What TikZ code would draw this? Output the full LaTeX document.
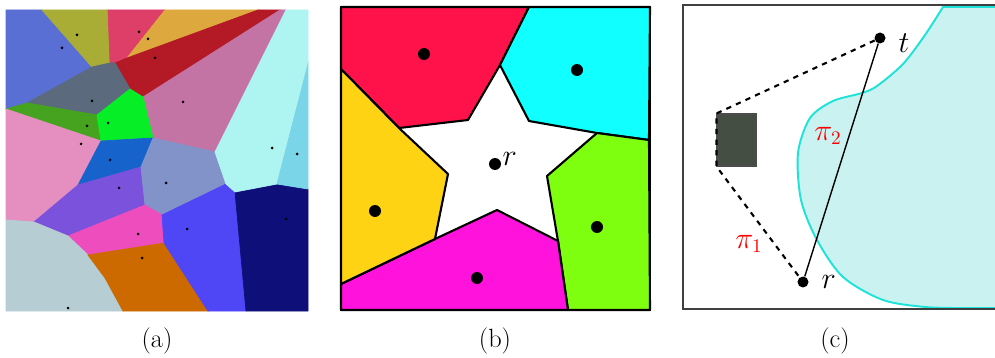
\documentclass[tikz,border=0pt]{standalone}
\usepackage{tikz}
\usetikzlibrary{positioning,calc}
% panel (a) colours
\definecolor{cblue}{RGB}{90,111,211}
\definecolor{colive}{RGB}{169,173,53}
\definecolor{crose}{RGB}{222,63,105}
\definecolor{cgold}{RGB}{221,169,63}
\definecolor{ccrimson}{RGB}{179,26,38}
\definecolor{cmauve}{RGB}{196,116,164}
\definecolor{cslate}{RGB}{91,107,125}
\definecolor{clgreen}{RGB}{6,238,38}
\definecolor{cdgreen}{RGB}{69,163,31}
\definecolor{cpink}{RGB}{229,143,192}
\definecolor{cbluemid}{RGB}{23,99,204}
\definecolor{cpurple}{RGB}{123,82,220}
\definecolor{cperi}{RGB}{130,147,202}
\definecolor{cmagenta}{RGB}{238,77,190}
\definecolor{cgray}{RGB}{181,205,211}
\definecolor{corange}{RGB}{204,106,0}
\definecolor{cviolet}{RGB}{79,70,245}
\definecolor{cnavy}{RGB}{15,15,122}
\definecolor{clcyan}{RGB}{174,244,241}
\definecolor{csky}{RGB}{122,213,232}
% panel (b) colours
\definecolor{bred}{RGB}{255,18,73}
\definecolor{bcyan}{RGB}{16,255,255}
\definecolor{bgreen}{RGB}{127,255,16}
\definecolor{bmagenta}{RGB}{255,18,220}
\definecolor{byellow}{RGB}{253,211,20}
% panel (c) colours
\definecolor{cfill}{RGB}{201,242,240}
\definecolor{cline}{RGB}{30,227,216}
\definecolor{obsfill}{RGB}{69,78,66}
\definecolor{framegray}{RGB}{64,64,64}

\begin{document}
\begin{tikzpicture}[x=0.02cm,y=-0.02cm,font=\fontsize{15}{17}\selectfont,
  cell/.style={fill=#1,draw=#1,line width=0.4pt},
  region/.style={fill=#1,draw=black,line width=1.2pt,line join=round},
  seed/.style={circle,fill=black,inner sep=0pt,minimum size=0.06cm},
  bigdot/.style={circle,fill=black,inner sep=0pt,minimum size=0.24cm},
  lbl/.style={font=\fontsize{16}{18}\selectfont,inner sep=0pt},
  pathlbl/.style={font=\fontsize{16}{18}\selectfont,text=red,inner sep=0pt}]
\useasboundingbox (0,0) rectangle (995,358);

% (a) Voronoi cells
\fill[cell=cblue] (6,10) -- (42,10) -- (92,67) -- (27,103) -- (6,109) -- cycle;
\fill[cell=colive] (42,10) -- (108,10) -- (110,63) -- (92,67) -- cycle;
\fill[cell=crose] (108,10) -- (165,10) -- (127,58) -- (115,63) -- (110,63) -- cycle;
\fill[cell=cgold] (165,10) -- (258,10) -- (127,58) -- cycle;
\fill[cell=ccrimson] (115,63) -- (127,58) -- (258,10) -- (280,10) -- (143,97) -- (130,89) -- cycle;
\fill[cell=cmauve] (143,97) -- (280,10) -- (286,10) -- (215,152) -- (153,138) -- cycle;
\fill[cell=cslate] (27,103) -- (92,67) -- (110,63) -- (115,63) -- (130,89) -- (97,115) -- cycle;
\fill[cell=cdgreen] (6,109) -- (27,103) -- (97,115) -- (101,141) -- cycle;
\fill[cell=clgreen] (97,115) -- (130,89) -- (143,97) -- (153,138) -- (101,141) -- cycle;
\fill[cell=cpink] (6,109) -- (101,141) -- (78,185) -- (34,222) -- (6,220) -- cycle;
\fill[cell=cbluemid] (101,141) -- (153,138) -- (141,167) -- (78,185) -- cycle;
\fill[cell=cpurple] (78,185) -- (141,167) -- (145,205) -- (68,236) -- (34,222) -- cycle;
\fill[cell=cperi] (153,138) -- (215,152) -- (226,184) -- (162,215) -- (145,205) -- (141,167) -- cycle;
\fill[cell=cmagenta] (68,236) -- (145,205) -- (162,215) -- (164,243) -- (88,255) -- cycle;
\fill[cell=cgray] (6,220) -- (34,222) -- (68,236) -- (88,255) -- (105,278) -- (123,311) -- (6,311) -- cycle;
\fill[cell=corange] (88,255) -- (164,243) -- (208,311) -- (123,311) -- (105,278) -- cycle;
\fill[cell=cviolet] (162,215) -- (226,184) -- (235,192) -- (246,311) -- (208,311) -- (164,243) -- cycle;
\fill[cell=cnavy] (235,192) -- (277,184) -- (308,189) -- (308,311) -- (246,311) -- cycle;
\fill[cell=clcyan] (215,152) -- (286,10) -- (308,10) -- (308,64) -- (277,184) -- (235,192) -- (226,184) -- cycle;
\fill[cell=csky] (308,64) -- (277,184) -- (308,189) -- cycle;
\foreach \x/\y [count=\i] in {77/35,62/48,139/32,148/39,155/58,92/101,183/102,87/126,108/123,81/144,
  110/160,272/148,297/154,166/183,119/188,286/219,138/234,187/229,142/258,68/308}
  \node[seed] (s\i) at (\x,\y) {};

% (b) star-shaped cell
\fill[region=bred] (341,7) -- (529,7) -- (500,65) -- (468,120) -- (399,128) -- (341,69) -- cycle;
\fill[region=bcyan] (529,7) -- (650,7) -- (649,140) -- (597,133) -- (529,121) -- (500,65) -- cycle;
\fill[region=bgreen] (597,133) -- (649,140) -- (650,310) -- (568,310) -- (558,241) -- (547,176) -- cycle;
\fill[region=bmagenta] (341,284) -- (435,239) -- (497,210) -- (558,241) -- (568,310) -- (341,310) -- cycle;
\fill[region=byellow] (341,69) -- (399,128) -- (448,174) -- (435,239) -- (341,284) -- cycle;
\draw[line width=1pt] (341,7) rectangle (650,310);
\foreach \x/\y/\n in {424/54/red,577/70/cyan,375/211/yellow,597/227/green,477/278/magenta}
  \node[bigdot] (b\n) at (\x,\y) {};
\node[bigdot] (bstar) at (495,164) {};
\node[lbl,anchor=south west] (rb) at ($(bstar.east)+(1,2)$) {$r$};

% (c) two paths
\filldraw[fill=cfill,draw=cline,line width=1.1pt] plot[smooth,tension=0.5] coordinates {(943,7) (925,35) (903,64) (877,86)
  (862,93) (833,101) (810,118) (798,153) (801,200) (817,240) (843,277) (883,300) (925,307) (960,308)}
  -- (1000,308) -- (1000,7) -- cycle;
\draw[framegray,line width=1.2pt] (683,5) rectangle (1000,309);
\node[fill=obsfill,draw=black!70,line width=0.6pt,minimum width=0.78cm,minimum height=1.04cm,inner sep=0pt] (obs) at (736.5,140) {};
\node[bigdot,minimum size=0.22cm] (t) at (880,38) {};
\node[bigdot,minimum size=0.22cm] (r) at (803,282) {};
\node[lbl,right=0.25cm of t,yshift=-0.1cm] (tl) {$t$};
\node[lbl,right=0.25cm of r] (rl) {$r$};
\draw[dashed,line width=1.2pt] (t) -- (obs.north west) -- (obs.south west) -- (r);
\draw[line width=0.8pt] (r) -- (t);
\node[pathlbl] (p2) at (828,136) {$\pi_2$};
\node[pathlbl] (p1) at (749,244) {$\pi_1$};

% captions
\node (capa) at (157,341) {(a)};
\node (capb) at (495,341) {(b)};
\node (capc) at (835,341) {(c)};
\end{tikzpicture}
\end{document}
